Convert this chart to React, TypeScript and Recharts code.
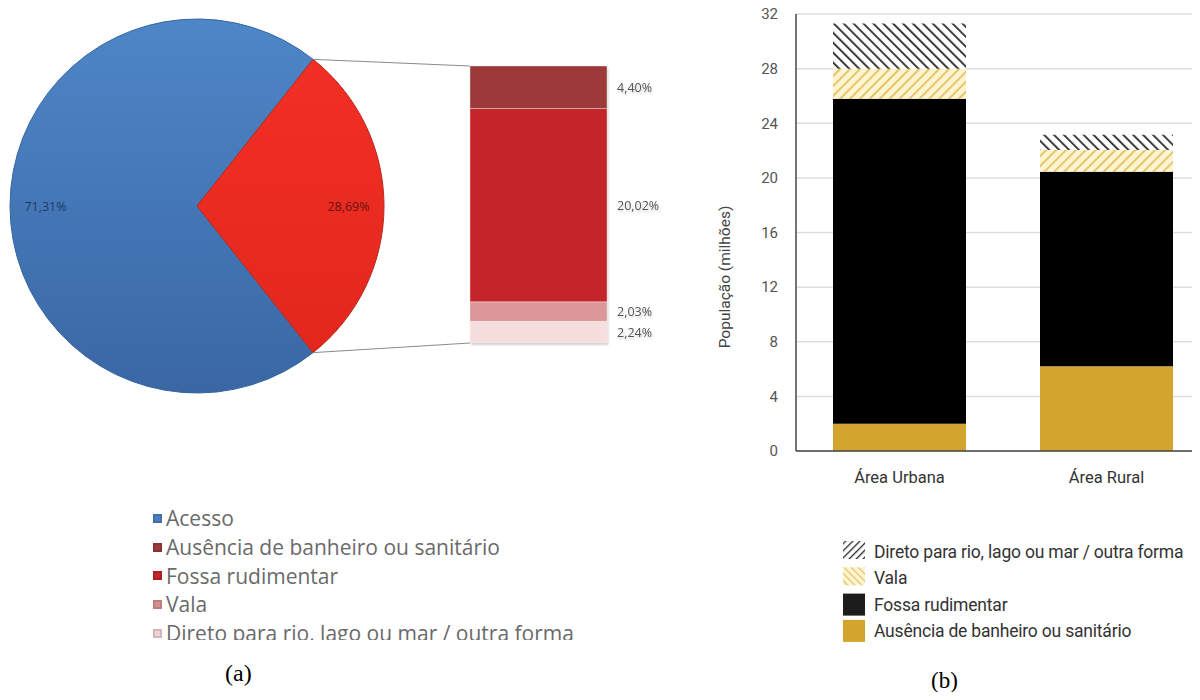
import React from "react";
import { PieChart, Pie, Cell, BarChart, Bar, XAxis, YAxis, CartesianGrid, LabelList } from "recharts";

// (a) pie: access vs no access, and breakdown of the "no access" slice
const pieNames = ["Acesso", "Sem acesso"];
const pieValues = [71.31, 28.69];
const breakdownNames = ["Direto para rio, lago ou mar / outra forma", "Vala", "Fossa rudimentar", "Ausência de banheiro ou sanitário"];
const breakdownValues = [2.24, 2.03, 20.02, 4.4];
const legendA = ["Acesso", "Ausência de banheiro ou sanitário", "Fossa rudimentar", "Vala", "Direto para rio, lago ou mar / outra forma"];

// (b) population in millions
const areas = ["Área Urbana", "Área Rural"];
const ausencia = [2.0, 6.2];
const fossa = [23.8, 14.25];
const vala = [2.2, 1.6];
const direto = [3.3, 1.1];
const yTicks = [0, 4, 8, 12, 16, 20, 24, 28, 32];
const legendB = ["Direto para rio, lago ou mar / outra forma", "Vala", "Fossa rudimentar", "Ausência de banheiro ou sanitário"];

const fmt = (v: number) => v.toFixed(2).replace(".", ",") + "%";

const PIE = { cx: 197, cy: 206, r: 187 };
const STACK = { left: 470, top: 66, width: 137, height: 277 };
const halfAngle = (pieValues[1] * 3.6) / 2;

const pieData = pieNames.map((name, i) => ({ name, value: pieValues[i] }));
const stackRow: any = { name: "x" };
breakdownNames.forEach((n, i) => (stackRow["k" + i] = breakdownValues[i]));
const stackColors = ["#f6dede", "#dc9898", "#c4252b", "#9b3a39"];
const legendAColors = ["#4a7fc1", "#9b3a39", "#c4252b", "#d89090", "#f0d2d2"];

const barData = areas.map((a, i) => ({ name: a, ausencia: ausencia[i], fossa: fossa[i], vala: vala[i], direto: direto[i] }));

const RAD = Math.PI / 180;
const renderPieLabel = (p: any) => {
  const r = p.outerRadius * 0.81;
  const x = p.cx + r * Math.cos(-p.midAngle * RAD);
  const y = p.cy + r * Math.sin(-p.midAngle * RAD);
  return (
    <text x={x} y={y} textAnchor="middle" dominantBaseline="central" fontSize={12.5} fontFamily="'Open Sans', sans-serif"
      fill={p.index === 0 ? "#1d3a66" : "#6a1210"}>{fmt(p.value)}</text>
  );
};

const StackLabel = (props: any) => {
  const { x, y, width, height, value } = props;
  return (
    <text x={x + width + 10} y={y + height / 2} dominantBaseline="central" fontSize={12.5} fill="#555" fontFamily="'Open Sans', sans-serif">
      {fmt(value)}
    </text>
  );
};

export default function App() {
  const upper = { x: PIE.cx + PIE.r * Math.cos(halfAngle * RAD), y: PIE.cy - PIE.r * Math.sin(halfAngle * RAD) };
  const lower = { x: PIE.cx + PIE.r * Math.cos(halfAngle * RAD), y: PIE.cy + PIE.r * Math.sin(halfAngle * RAD) };
  return (
    <div style={{ position: "relative", width: 1200, height: 700, overflow: "hidden", background: "#fff", margin: -8 }}>
      {/* (a) pie */}
      <div style={{ position: "absolute", left: 0, top: 0 }}>
        <PieChart width={400} height={420} margin={{ top: 0, right: 0, left: 0, bottom: 0 }}>
          <defs>
            <linearGradient id="gBlue" x1="0" y1="0" x2="0" y2="1">
              <stop offset="0%" stopColor="#4e86c8" />
              <stop offset="100%" stopColor="#3a67a4" />
            </linearGradient>
            <linearGradient id="gRed" x1="0" y1="0" x2="0" y2="1">
              <stop offset="0%" stopColor="#f22f24" />
              <stop offset="100%" stopColor="#e3271d" />
            </linearGradient>
          </defs>
          <Pie data={pieData} dataKey="value" nameKey="name" cx={PIE.cx} cy={PIE.cy} outerRadius={PIE.r}
            startAngle={halfAngle} endAngle={halfAngle + 360} label={renderPieLabel} labelLine={false} isAnimationActive={false}>
            <Cell fill="url(#gBlue)" stroke="#3566a0" strokeWidth={1} />
            <Cell fill="url(#gRed)" stroke="#b82a1e" strokeWidth={1} />
          </Pie>
        </PieChart>
      </div>

      {/* connector lines */}
      <svg style={{ position: "absolute", left: 0, top: 0 }} width={700} height={420}>
        <line x1={upper.x} y1={upper.y} x2={STACK.left} y2={STACK.top} stroke="#8a8a8a" strokeWidth={1} />
        <line x1={lower.x} y1={lower.y} x2={STACK.left} y2={STACK.top + STACK.height} stroke="#8a8a8a" strokeWidth={1} />
      </svg>

      {/* (a) breakdown stack */}
      <div style={{ position: "absolute", left: STACK.left, top: STACK.top, filter: "drop-shadow(1px 2px 1px rgba(0,0,0,0.18))" }}>
        <BarChart width={STACK.width + 90} height={STACK.height} data={[stackRow]} margin={{ top: 0, right: 90, left: 0, bottom: 0 }} barCategoryGap={0}>
          <XAxis dataKey="name" hide />
          <YAxis hide domain={[0, pieValues[1]]} />
          {breakdownNames.map((n, i) => (
            <Bar key={n} dataKey={"k" + i} stackId="s" fill={stackColors[i]} stroke="#ffffff" strokeOpacity={0.35} strokeWidth={1} isAnimationActive={false}>
              <LabelList dataKey={"k" + i} content={<StackLabel />} />
            </Bar>
          ))}
        </BarChart>
      </div>

      {/* (a) legend */}
      <div style={{ position: "absolute", left: 153, top: 504, height: 136, overflow: "hidden", fontFamily: "'Open Sans', sans-serif", fontSize: 21, color: "#6a6a6a" }}>
        {legendA.map((n, i) => (
          <div key={n} style={{ display: "flex", alignItems: "center", height: 28.7, whiteSpace: "nowrap" }}>
            <div style={{ width: 9, height: 9, background: legendAColors[i], marginRight: 4, boxShadow: "inset 0 0 0 2px rgba(0,0,0,0.12)" }} />
            <span>{n}</span>
          </div>
        ))}
      </div>
      <div style={{ position: "absolute", left: 225, top: 660, fontFamily: "'Liberation Serif', serif", fontSize: 24, color: "#000" }}>(a)</div>

      {/* (b) stacked bar chart */}
      <div style={{ position: "absolute", left: 700, top: 0 }}>
        <BarChart width={510} height={500} data={barData} margin={{ top: 14, right: 0, left: 0, bottom: 19 }}>
          <defs>
            <pattern id="hatchDark" patternUnits="userSpaceOnUse" width="7" height="7" patternTransform="rotate(-45)">
              <rect width="7" height="7" fill="#ffffff" />
              <line x1="0" y1="0" x2="0" y2="7" stroke="#2a2a2a" strokeWidth="3.6" />
            </pattern>
            <pattern id="hatchYellow" patternUnits="userSpaceOnUse" width="7" height="7" patternTransform="rotate(45)">
              <rect width="7" height="7" fill="#fdf4d0" />
              <line x1="0" y1="0" x2="0" y2="7" stroke="#e3bd5c" strokeWidth="3.4" />
            </pattern>
          </defs>
          <CartesianGrid vertical={false} stroke="#dddddd" strokeWidth={1.5} />
          <XAxis dataKey="name" tickSize={0} tickMargin={20} height={30} axisLine={{ stroke: "#444", strokeWidth: 1.5 }}
            tick={{ fontSize: 16.5, fill: "#333", fontFamily: "Roboto, sans-serif" }} />
          <YAxis width={96} domain={[0, 32]} ticks={yTicks} tickSize={0} tickMargin={18} axisLine={{ stroke: "#444", strokeWidth: 1.5 }}
            tick={{ fontSize: 15, fill: "#555", fontFamily: "Roboto, sans-serif" }} />
          <Bar dataKey="ausencia" stackId="b" fill="#d4a52e" barSize={133} isAnimationActive={false} />
          <Bar dataKey="fossa" stackId="b" fill="#000000" barSize={133} isAnimationActive={false} />
          <Bar dataKey="vala" stackId="b" fill="url(#hatchYellow)" barSize={133} isAnimationActive={false} />
          <Bar dataKey="direto" stackId="b" fill="url(#hatchDark)" barSize={133} isAnimationActive={false} />
        </BarChart>
      </div>

      {/* (b) axis title and legend */}
      <svg style={{ position: "absolute", left: 0, top: 0, pointerEvents: "none" }} width={1200} height={700}>
        <defs>
          <pattern id="legDark" patternUnits="userSpaceOnUse" width="5" height="5" patternTransform="rotate(45)">
            <rect width="5" height="5" fill="#ffffff" />
            <line x1="0" y1="0" x2="0" y2="5" stroke="#2a2a2a" strokeWidth="2.6" />
          </pattern>
          <pattern id="legYellow" patternUnits="userSpaceOnUse" width="5" height="5" patternTransform="rotate(-45)">
            <rect width="5" height="5" fill="#fdf4d0" />
            <line x1="0" y1="0" x2="0" y2="5" stroke="#e3bd5c" strokeWidth="2.4" />
          </pattern>
        </defs>
        <text x={725} y={277} transform="rotate(-90 725 277)" textAnchor="middle" dominantBaseline="central" fontSize={15.5} fill="#444" fontFamily="Roboto, sans-serif">
          População (milhões)
        </text>
        {legendB.map((n, i) => {
          const cy = 552 + i * 26.3;
          const fills = ["url(#legDark)", "url(#legYellow)", "#1c1c1c", "#d4a52e"];
          const h = i < 2 ? 18 : 22;
          return (
            <g key={n}>
              <rect x={843} y={cy - h / 2 - (i < 2 ? 2 : 0)} width={22} height={h} fill={fills[i]} />
              <text x={874} y={cy} dominantBaseline="central" fontSize={17.5} fill="#333" fontFamily="Roboto, sans-serif" letterSpacing={-0.2}>{n}</text>
            </g>
          );
        })}
      </svg>
      <div style={{ position: "absolute", left: 931, top: 668, fontFamily: "'Liberation Serif', serif", fontSize: 23, color: "#000" }}>(b)</div>
    </div>
  );
}
